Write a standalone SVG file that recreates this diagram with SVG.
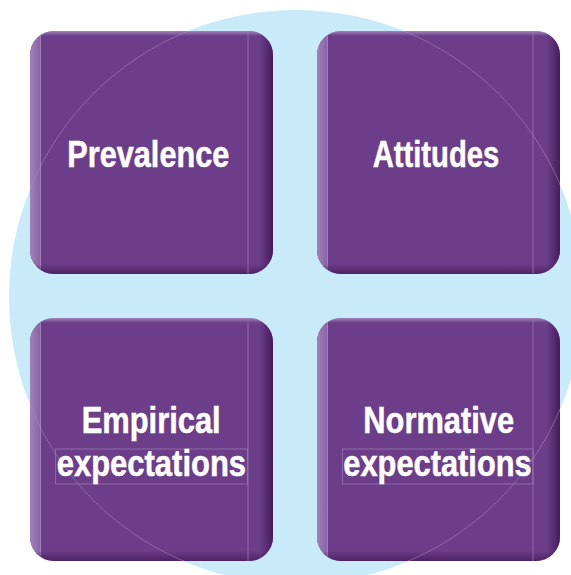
<svg xmlns="http://www.w3.org/2000/svg" width="571" height="575" viewBox="0 0 571 575">
<style>
.lbl{font-family:"Liberation Sans",Arial,sans-serif;font-weight:bold;font-size:36px;fill:#ffffff;stroke:#ffffff;stroke-width:0.5;}
.fl{fill:none;stroke:#9b80b8;stroke-width:0.7;}
</style>
<defs>
<clipPath id="boxclip"><rect x="0" y="0" width="243" height="243" rx="24" ry="24"/></clipPath>
<clipPath id="allboxes">
<rect x="30" y="31" width="243" height="243" rx="24"/>
<rect x="317" y="31" width="243" height="243" rx="24"/>
<rect x="30" y="318" width="243" height="243" rx="24"/>
<rect x="317" y="318" width="243" height="243" rx="24"/>
</clipPath>
<linearGradient id="leftG" x1="0" y1="0" x2="1" y2="0">
<stop offset="0" stop-color="#a083b8"/><stop offset="1" stop-color="#8760a2"/>
</linearGradient>
<linearGradient id="rightG" x1="0" y1="0" x2="1" y2="0">
<stop offset="0" stop-color="#3d1656" stop-opacity="0"/><stop offset="1" stop-color="#3d1656" stop-opacity="0.85"/>
</linearGradient>
<linearGradient id="botG" x1="0" y1="0" x2="0" y2="1">
<stop offset="0" stop-color="#3d1656" stop-opacity="0"/><stop offset="1" stop-color="#3d1656" stop-opacity="0.7"/>
</linearGradient>
<linearGradient id="topG" x1="0" y1="0" x2="0" y2="1">
<stop offset="0" stop-color="#b9a2cf" stop-opacity="0.7"/><stop offset="1" stop-color="#b9a2cf" stop-opacity="0"/>
</linearGradient>
<g id="boxbody">
<rect x="0" y="0" width="243" height="243" fill="#6c3d88"/>
<rect x="0" y="0" width="11" height="243" fill="url(#leftG)"/>
<line x1="10.5" y1="0" x2="10.5" y2="243" stroke="#b8a0cc" stroke-width="0.8" stroke-opacity="0.6"/>
<rect x="0" y="0" width="243" height="5" fill="url(#topG)"/>
<rect x="230" y="0" width="13" height="243" fill="url(#rightG)"/>
<rect x="0" y="233" width="243" height="10" fill="url(#botG)"/>
</g>
</defs>

<circle cx="296" cy="297" r="287" fill="#c8eaf9"/>

<g id="node-prevalence" transform="translate(30,31)">
<g clip-path="url(#boxclip)"><use href="#boxbody"/></g>
<line class="fl" x1="218" y1="0" x2="218" y2="243"/>
</g>
<g id="node-attitudes" transform="translate(317,31)">
<g clip-path="url(#boxclip)"><use href="#boxbody"/></g>
<line class="fl" x1="216" y1="0" x2="216" y2="243"/>
</g>
<g id="node-empirical" transform="translate(30,318)">
<g clip-path="url(#boxclip)"><use href="#boxbody"/></g>
<line class="fl" x1="218" y1="0" x2="218" y2="243"/>
<rect class="fl" x="25.7" y="131" width="192" height="35"/>
</g>
<g id="node-normative" transform="translate(317,318)">
<g clip-path="url(#boxclip)"><use href="#boxbody"/></g>
<line class="fl" x1="216" y1="0" x2="216" y2="243"/>
<rect class="fl" x="25.3" y="131" width="190.7" height="35"/>
</g>

<circle cx="296" cy="297" r="287" fill="none" stroke="#a88ec4" stroke-width="0.7" stroke-opacity="0.8" clip-path="url(#allboxes)"/>

<g id="labels">
<text class="lbl" x="148.3" y="166.7" text-anchor="middle" textLength="162" lengthAdjust="spacingAndGlyphs">Prevalence</text>
<text class="lbl" x="436" y="166.7" text-anchor="middle" textLength="126.6" lengthAdjust="spacingAndGlyphs">Attitudes</text>
<text class="lbl" x="151.2" y="432.7" text-anchor="middle" textLength="139" lengthAdjust="spacingAndGlyphs">Empirical</text>
<text class="lbl" x="151.4" y="476" text-anchor="middle" textLength="189.3" lengthAdjust="spacingAndGlyphs">expectations</text>
<text class="lbl" x="438.7" y="432.7" text-anchor="middle" textLength="150.7" lengthAdjust="spacingAndGlyphs">Normative</text>
<text class="lbl" x="437.5" y="476" text-anchor="middle" textLength="188.3" lengthAdjust="spacingAndGlyphs">expectations</text>
</g>
</svg>
